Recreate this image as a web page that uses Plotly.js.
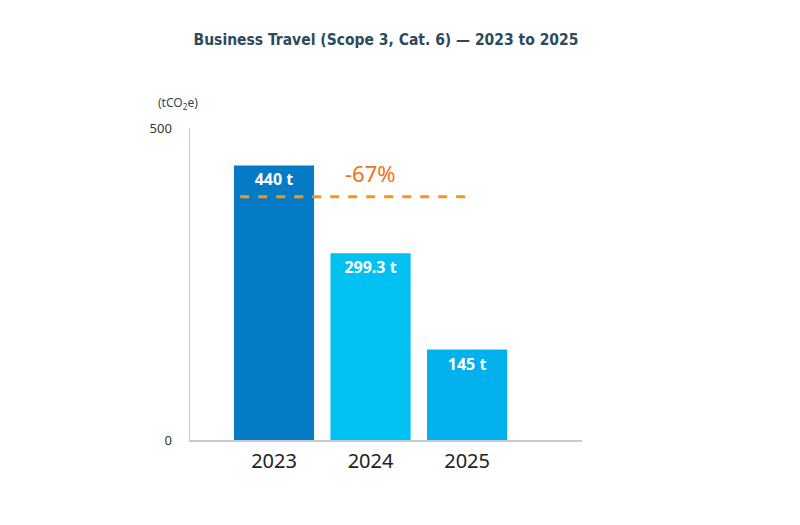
<!DOCTYPE html>
<html>
<head>
<meta charset="utf-8">
<script src="https://cdn.plot.ly/plotly-3.0.1.min.js"></script>
<style>
  html, body { margin: 0; padding: 0; background: #ffffff; }
  #chart { width: 800px; height: 525px; }
</style>
</head>
<body>
<div id="chart"></div>
<script>
// Business travel emissions by year (tCO2e)
const years = ['2023', '2024', '2025'];
const emissions = [440, 299.3, 145];
const barLabels = ['440 t', '299.3 t', '145 t'];
const barColors = ['#047bc4', '#00c1f1', '#00b1ee'];
const yTickValues = [0, 500];
const yTickLabels = ['0', '500'];
const reductionLabel = '-67%';
const referenceLevel = 390;

const trace = {
  type: 'bar',
  x: years,
  y: emissions,
  text: barLabels,
  textposition: 'inside',
  insidetextanchor: 'end',
  textangle: 0,
  textfont: { family: 'Noto Sans, Open Sans, sans-serif', size: 16, color: '#ffffff', weight: 'bold' },
  marker: { color: barColors, line: { width: 0 } },
  width: 0.83,
  hoverinfo: 'skip'
};

const layout = {
  width: 800,
  height: 525,
  paper_bgcolor: '#ffffff',
  plot_bgcolor: '#ffffff',
  margin: { l: 190, r: 218, t: 128, b: 85 },
  showlegend: false,
  title: {
    text: '<b>Business Travel (Scope 3, Cat. 6) — 2023 to 2025</b>',
    font: { family: 'DejaVu Sans Condensed, Liberation Sans Narrow, sans-serif', size: 15.5, color: '#2c4a5b' },
    x: 0.5, xref: 'paper', xanchor: 'center',
    y: 0.924, yref: 'container', yanchor: 'middle'
  },
  xaxis: {
    type: 'category',
    range: [-0.87, 3.19],
    showline: true,
    linecolor: '#c3cbd0',
    linewidth: 1.5,
    ticks: '',
    showgrid: false,
    zeroline: false,
    tickfont: { family: 'Noto Sans, Open Sans, sans-serif', size: 20, color: '#222222' },
    ticklabelstandoff: 2
  },
  yaxis: {
    range: [0, 500],
    tickmode: 'array',
    tickvals: yTickValues,
    ticktext: yTickLabels,
    showline: true,
    linecolor: '#c3cbd0',
    linewidth: 1.5,
    ticks: '',
    showgrid: false,
    zeroline: false,
    tickfont: { family: 'Noto Sans, Open Sans, sans-serif', size: 13, color: '#333333' },
    ticklabelstandoff: 14
  },
  shapes: [{
    type: 'line',
    xref: 'x', yref: 'y',
    x0: -0.35, x1: 2.0,
    y0: referenceLevel, y1: referenceLevel,
    line: { color: '#f7941d', width: 3, dash: 'dash' }
  }],
  annotations: [
    {
      text: '(tCO<sub>2</sub>e)',
      xref: 'paper', yref: 'paper',
      x: -0.03, y: 1.08,
      xanchor: 'center', yanchor: 'middle',
      showarrow: false,
      font: { family: 'Noto Sans, Open Sans, sans-serif', size: 12, color: '#2c4a5b' }
    },
    {
      text: reductionLabel,
      xref: 'x', yref: 'y',
      x: 1, y: 428,
      xanchor: 'center', yanchor: 'middle',
      showarrow: false,
      font: { family: 'Noto Sans, Open Sans, sans-serif', size: 22, color: '#f26f21' }
    }
  ]
};

Plotly.newPlot('chart', [trace], layout, { displayModeBar: false, staticPlot: true });
</script>
</body>
</html>
